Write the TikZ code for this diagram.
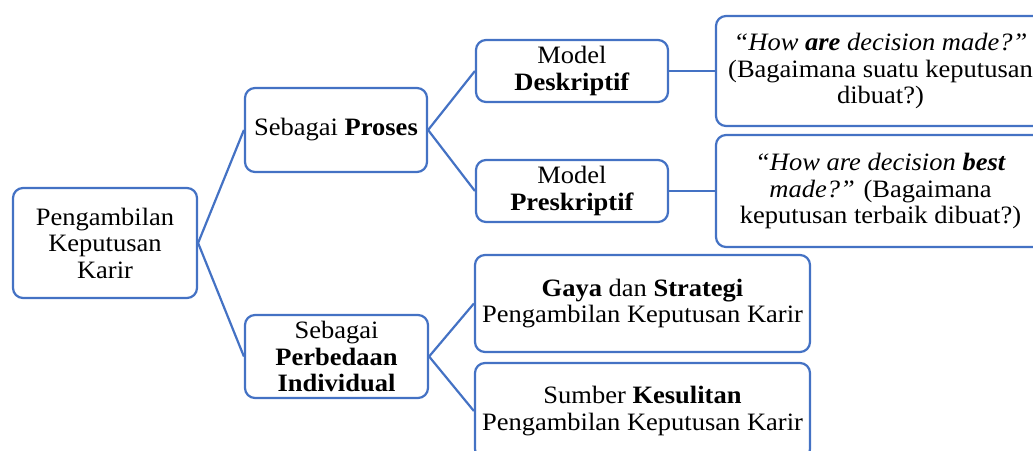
\documentclass[tikz,border=0pt]{standalone}
\usepackage{fontspec}
\setmainfont{Liberation Serif}[FakeStretch=1.06]
\definecolor{boxblue}{RGB}{68,114,196}
\begin{document}
\begin{tikzpicture}[x=1pt,y=-1pt,
  box/.style={draw=boxblue, line width=2.2pt, rounded corners=10pt, fill=white,
    inner sep=0pt, align=center, font=\fontsize{25}{26.5}\selectfont},
  link/.style={draw=boxblue, line width=2.2pt}]
\useasboundingbox (0,0) rectangle (1033,450);
\begin{scope}
\clip (0,0) rectangle (1033,450);
\node[box, minimum width=184pt, minimum height=110pt] (root) at (105,243) {Pengambilan\\Keputusan\\Karir};
\node[box, minimum width=182pt, minimum height=84pt] (proses) at (336,130) {Sebagai \textbf{Proses}};
\node[box, minimum width=183pt, minimum height=83pt] (indiv) at (336.5,356.5) {Sebagai\\\textbf{Perbedaan}\\\textbf{Individual}};
\node[box, minimum width=192pt, minimum height=62pt] (desk) at (572,71) {Model\\\textbf{Deskriptif}};
\node[box, minimum width=192pt, minimum height=62pt] (presk) at (572,191) {Model\\\textbf{Preskriptif}};
\node[box, minimum width=329pt, minimum height=110pt] (r1) at (880.5,71) {\textit{“How \textbf{are} decision made?”}\\(Bagaimana suatu keputusan\\dibuat?)};
\node[box, minimum width=329pt, minimum height=112pt] (r2) at (880.5,191) {\textit{“How are decision \textbf{best}}\\\textit{made?”} (Bagaimana\\keputusan terbaik dibuat?)};
\node[box, minimum width=335pt, minimum height=97pt] (gaya) at (642.5,303.5) {\textbf{Gaya} dan \textbf{Strategi}\\Pengambilan Keputusan Karir};
\node[box, minimum width=335pt, minimum height=96pt] (sumber) at (642.5,411) {Sumber \textbf{Kesulitan}\\Pengambilan Keputusan Karir};
\draw[link] (root.east) -- (proses.west);
\draw[link] (root.east) -- (indiv.west);
\draw[link] (proses.east) -- (desk.west);
\draw[link] (proses.east) -- (presk.west);
\draw[link] (desk.east) -- (r1.west);
\draw[link] (presk.east) -- (r2.west);
\draw[link] (indiv.east) -- (gaya.west);
\draw[link] (indiv.east) -- (sumber.west);
\end{scope}
\end{tikzpicture}
\end{document}
